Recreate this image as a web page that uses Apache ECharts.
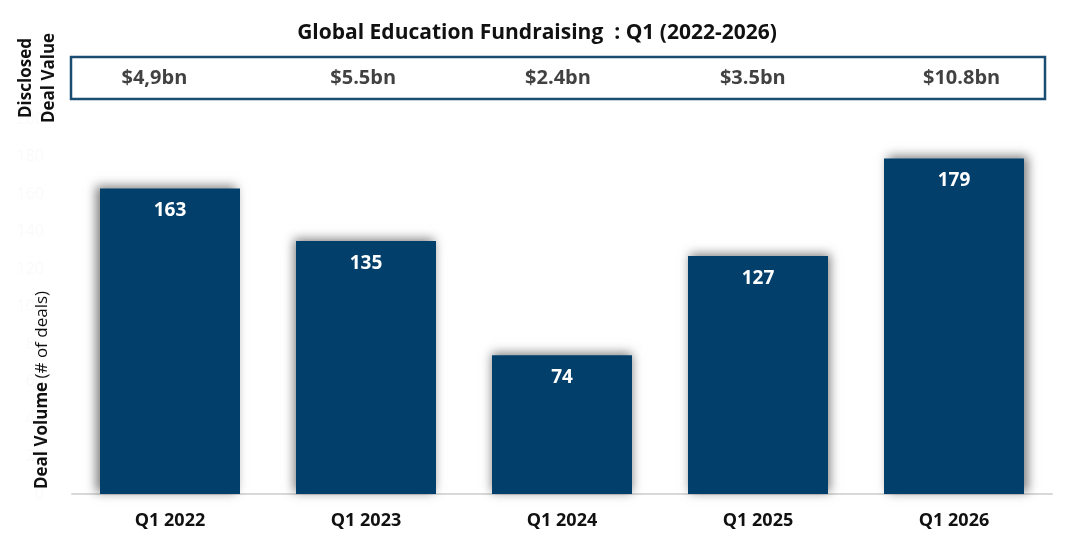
<!DOCTYPE html>
<html>
<head>
<meta charset="utf-8">
<script src="https://cdn.jsdelivr.net/npm/echarts@6/dist/echarts.min.js"></script>
<style>
html,body{margin:0;padding:0;background:#fff;}
#c{width:1074px;height:548px;}
</style>
</head>
<body>
<div id="c"></div>
<script>
const categories = ['Q1 2022', 'Q1 2023', 'Q1 2024', 'Q1 2025', 'Q1 2026'];
const dealVolume = [163, 135, 74, 127, 179];
const dealValue = ['$4,9bn', '$5.5bn', '$2.4bn', '$3.5bn', '$10.8bn'];
const shadowShift = [-4, -2, 0, 2, 4];
const valueNudge = [-14, 0, 0, 0, 14];

const FONT = '"Open Sans", "Noto Sans", sans-serif';
const chart = echarts.init(document.getElementById('c'), null, {renderer: 'canvas'});

chart.setOption({
  backgroundColor: '#ffffff',
  animation: false,
  title: {
    text: 'Global Education Fundraising  : Q1 (2022-2026)',
    left: 'center',
    top: 18,
    textStyle: {fontFamily: FONT, fontSize: 21, fontWeight: 'bold', color: '#111'}
  },
  grid: [
    {left: 72, right: 22, top: 119, bottom: 54},
    {left: 71, right: 29, top: 57, height: 42, show: true, borderColor: '#1b4d72', borderWidth: 2.5, backgroundColor: 'transparent'}
  ],
  xAxis: [
    {
      type: 'category', gridIndex: 0, data: categories,
      axisLine: {lineStyle: {color: '#d9d9d9', width: 2}},
      axisTick: {show: false},
      axisLabel: {fontFamily: FONT, fontSize: 18, fontWeight: 'bold', color: '#111', margin: 18}
    },
    {
      type: 'category', gridIndex: 1, data: categories,
      axisLine: {show: false}, axisTick: {show: false}, axisLabel: {show: false}, splitLine: {show: false}
    }
  ],
  yAxis: [
    {
      type: 'value', gridIndex: 0, min: 0, max: 200, interval: 20,
      axisLine: {show: false}, axisTick: {show: false}, splitLine: {show: false},
      axisLabel: {fontFamily: FONT, fontSize: 16, color: '#fafafa', margin: 28}
    },
    {
      type: 'value', gridIndex: 1, min: -1, max: 1,
      axisLine: {show: false}, axisTick: {show: false}, splitLine: {show: false}, axisLabel: {show: false}
    }
  ],
  series: [
    {
      type: 'bar', xAxisIndex: 0, yAxisIndex: 0,
      barWidth: 140,
      data: dealVolume.map((v, i) => ({
        value: v,
        itemStyle: {shadowOffsetX: shadowShift[i]}
      })),
      itemStyle: {color: '#023f6a', shadowBlur: 10, shadowColor: 'rgba(0,0,0,0.5)', shadowOffsetY: -2},
      label: {
        show: true, position: 'insideTop', distance: 13,
        fontFamily: FONT, fontSize: 19, fontWeight: 'bold', color: '#fff'
      }
    },
    {
      type: 'scatter', xAxisIndex: 1, yAxisIndex: 1,
      symbolSize: 0,
      data: categories.map((c, i) => ({
        value: [c, 0],
        label: {offset: [valueNudge[i], 0]}
      })),
      label: {
        show: true, position: 'inside',
        formatter: p => dealValue[p.dataIndex],
        fontFamily: FONT, fontSize: 20, fontWeight: 'bold', color: '#111'
      },
      silent: true
    }
  ],
  graphic: [
    {
      type: 'text', x: 38, y: 78, rotation: Math.PI / 2, z: 100,
      style: {text: 'Disclosed\nDeal Value', fontFamily: FONT, fontSize: 17, fontWeight: 'bold', fill: '#111', align: 'center', verticalAlign: 'middle', lineHeight: 23}
    },
    {
      type: 'text', x: 42, y: 390, rotation: Math.PI / 2, z: 100,
      style: {
        text: '{b|Deal Volume} {r|(# of deals)}',
        align: 'center', verticalAlign: 'middle',
        rich: {
          b: {fontFamily: FONT, fontSize: 17, fontWeight: 'bold', fill: '#111', color: '#111'},
          r: {fontFamily: FONT, fontSize: 17, fontWeight: 'normal', fill: '#111', color: '#111'}
        }
      }
    }
  ]
});
</script>
</body>
</html>
